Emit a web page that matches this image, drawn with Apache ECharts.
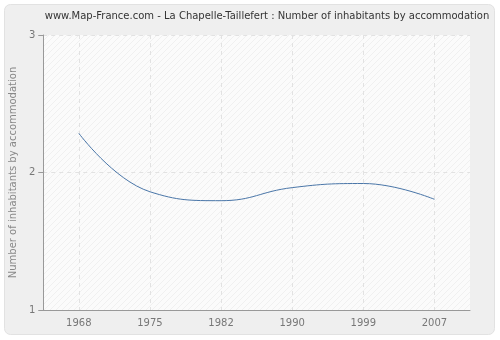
<!DOCTYPE html>
<html><head><meta charset="utf-8">
<script src="https://cdn.jsdelivr.net/npm/echarts@6/dist/echarts.min.js"></script>
<style>html,body{margin:0;padding:0;background:#fff;}#c{width:500px;height:340px;}</style>
</head><body><div id="c"></div>
<script>
var years = ['1968','1975','1982','1990','1999','2007'];
var values = [2.285, 1.86, 1.795, 1.89, 1.92, 1.805];
var yTicks = [1, 2, 3];

var pc = document.createElement('canvas');
pc.width = 6; pc.height = 6;
var g = pc.getContext('2d');
g.fillStyle = '#fbfbfb'; g.fillRect(0,0,6,6);
g.strokeStyle = '#f0f0f0'; g.lineWidth = 1;
g.beginPath(); g.moveTo(0,6); g.lineTo(6,0); g.stroke();
g.beginPath(); g.moveTo(-3,3); g.lineTo(3,-3); g.stroke();
g.beginPath(); g.moveTo(3,9); g.lineTo(9,3); g.stroke();

var chart = echarts.init(document.getElementById('c'), null, {renderer:'canvas'});
chart.setOption({
  backgroundColor: '#ffffff',
  animation: false,
  graphic: [{type:'rect', z:-10, shape:{x:4.5,y:4.5,width:490,height:330,r:6}, style:{fill:'#efefef', stroke:'#e2e2e2', lineWidth:1}}],
  title: {text: 'www.Map-France.com - La Chapelle-Taillefert : Number of inhabitants by accommodation', top: 11, left: 267, textAlign: 'center', textStyle:{fontFamily:'DejaVu Sans', fontSize:10, fontWeight:'normal', color:'#333'}, padding:0},
  grid: {left: 40, right: 30, top: 35, bottom: 30, show: true, backgroundColor: {image: pc, repeat: 'repeat'}, borderWidth: 0},
  xAxis: {type:'category', data: years, boundaryGap: true,
    axisLine:{lineStyle:{color:'#999'}},
    axisTick:{alignWithLabel:true, length:5, lineStyle:{color:'#999'}},
    axisLabel:{color:'#777', fontFamily:'DejaVu Sans', fontSize:10, margin:8},
    splitLine:{show:true, alignWithLabel:true, lineStyle:{color:'#e2e2e2', type:[4,4]}}},
  yAxis: {type:'value', min: yTicks[0], max: yTicks[yTicks.length-1], interval: 1,
    name: 'Number of inhabitants by accommodation', nameLocation:'middle', nameGap: 24,
    nameTextStyle:{color:'#888', fontFamily:'DejaVu Sans', fontSize:10},
    axisLine:{show:true, lineStyle:{color:'#999'}},
    axisTick:{show:true, length:5, lineStyle:{color:'#999'}},
    axisLabel:{color:'#777', fontFamily:'DejaVu Sans', fontSize:10, margin:8},
    splitLine:{show:true, lineStyle:{color:'#e2e2e2', type:[4,4]}}},
  series: [{type:'line', data: values, smooth: 0.45, symbol:'none', lineStyle:{color:'#4a76a8', width:1}}]
});
</script></body></html>
